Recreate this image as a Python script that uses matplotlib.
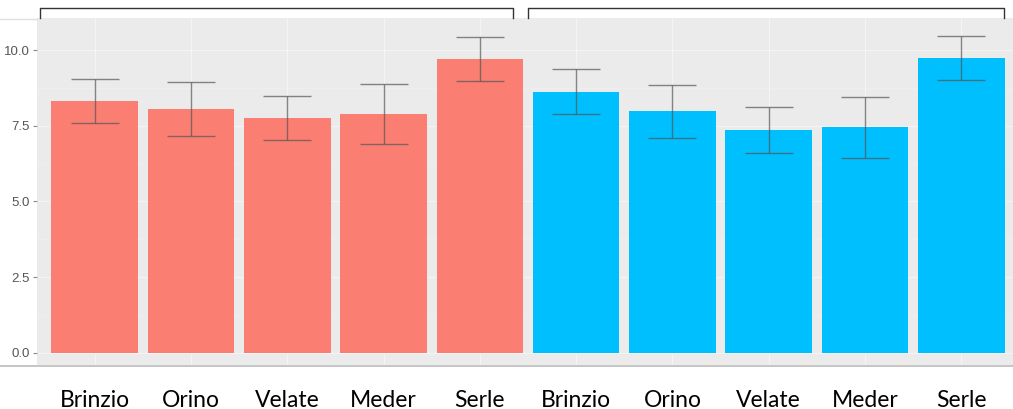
import matplotlib
matplotlib.use("Agg")
import matplotlib.pyplot as plt
import matplotlib.transforms as mtransforms
from matplotlib.ticker import MultipleLocator
import numpy as np

sites = ["Brinzio", "Orino", "Velate", "Meder", "Serle"]
group_a_mean = [8.32, 8.05, 7.76, 7.90, 9.70]
group_a_err = [0.74, 0.89, 0.72, 0.99, 0.72]
group_b_mean = [8.63, 7.98, 7.36, 7.45, 9.74]
group_b_err = [0.74, 0.87, 0.76, 1.00, 0.72]

color_a = "#FA7F72"
color_b = "#00BFFF"

fig = plt.figure(figsize=(10.13, 4.09), dpi=100)
ax = fig.add_axes([37 / 1013, 44 / 409, 982 / 1013, 347 / 409])
ax.set_facecolor("#EBEBEB")

n = len(sites)
xa = np.arange(n)
xb = np.arange(n) + n
ax.bar(xa, group_a_mean, width=0.9, color=color_a, zorder=2)
ax.bar(xb, group_b_mean, width=0.9, color=color_b, zorder=2)
for x, m, e in zip(list(xa) + list(xb), group_a_mean + group_b_mean, group_a_err + group_b_err):
    ax.errorbar(x, m, yerr=e, fmt="none", ecolor="#555555", alpha=0.7,
                elinewidth=1.0, capsize=17, capthick=1.0, zorder=3)

ax.set_xlim(-0.6, 9.6)
ax.set_ylim(-0.4, 11.06)
ax.yaxis.set_major_locator(MultipleLocator(2.5))
ax.yaxis.set_minor_locator(MultipleLocator(1.25))
ax.grid(which="major", color="#F4F4F4", linewidth=0.8, zorder=0)
ax.grid(which="minor", axis="y", color="#F0F0F0", linewidth=0.5, zorder=0)
ax.set_axisbelow(True)
for s in ax.spines.values():
    s.set_visible(False)

ax.set_xticks(list(xa) + list(xb))
ax.set_xticklabels(sites + sites, fontsize=16.5, family="Lato", color="black")
ax.tick_params(axis="x", length=0, pad=18)
ax.set_yticks([0, 2.5, 5, 7.5, 10])
ax.set_yticklabels(["0.0", "2.5", "5.0", "7.5", "10.0"], fontsize=9.5,
                   family="Liberation Sans", color="#555555")
ax.tick_params(axis="y", which="major", length=3, color="#8a8a8a", pad=2)
ax.tick_params(axis="y", which="minor", length=0)

# group brackets above the panel
trans = mtransforms.blended_transform_factory(ax.transData, fig.transFigure)
y_top = 1 - 8 / 409
y_foot = 1 - 18 / 409
for x0, x1 in [(-0.57, 4.345), (4.50, 9.44)]:
    ax.plot([x0, x0, x1, x1], [y_foot, y_top, y_top, y_foot], transform=trans,
            color="#333333", linewidth=1.0, clip_on=False)

# thin separator lines across the figure
fig.add_artist(plt.Line2D([0, 1], [1 - 365.5 / 409] * 2, color="#BBBBBB", linewidth=1.2))
fig.add_artist(plt.Line2D([0, 37 / 1013], [1 - 18.5 / 409] * 2, color="#E0E0E0", linewidth=1.0))

fig.savefig("out.png", dpi=100)
